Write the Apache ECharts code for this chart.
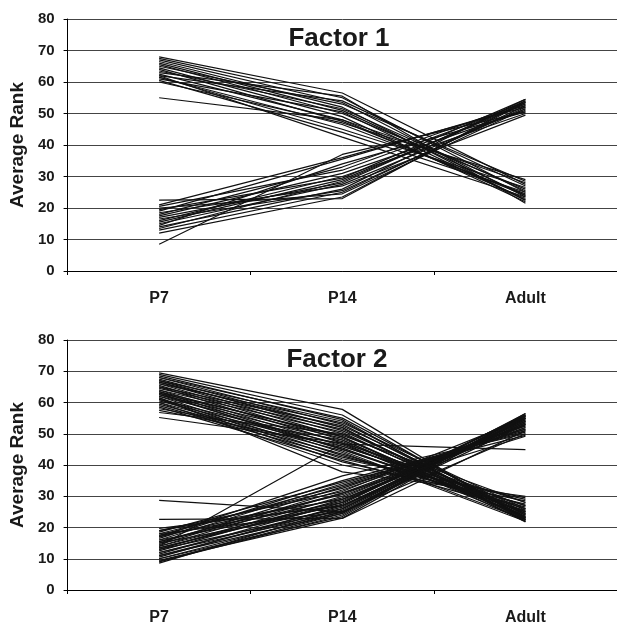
<!DOCTYPE html>
<html>
<head>
<meta charset="utf-8">
<script src="https://cdn.jsdelivr.net/npm/echarts@6/dist/echarts.min.js"></script>
<style>
html,body{margin:0;padding:0;background:#fff;}
#chart{width:617px;height:626px;}
</style>
</head>
<body>
<div id="chart"></div>
<script>
// Categories and y-axis ticks
var categories = ['P7', 'P14', 'Adult'];
var yTicks = [0, 10, 20, 30, 40, 50, 60, 70, 80];
var panelTitles = ['Factor 1', 'Factor 2'];

// Factor 1: each row is one gene line [P7, P14, Adult]
var factor1Down = [
  [68.0, 56.5, 27.5], [67.5, 55.0, 25.0], [67.0, 53.5, 23.5], [66.5, 52.0, 22.5],
  [66.0, 51.0, 24.0], [65.5, 50.0, 26.0], [65.0, 53.0, 28.5], [64.5, 49.0, 22.0],
  [63.5, 51.5, 25.5], [62.5, 48.0, 23.0], [62.0, 54.0, 27.0], [61.5, 46.5, 24.5],
  [61.0, 50.5, 22.5], [61.5, 45.0, 26.5], [60.5, 44.0, 25.0], [60.0, 47.0, 29.0],
  [62.0, 42.5, 23.5], [55.0, 48.0, 28.0], [63.0, 55.5, 21.5], [64.0, 47.5, 24.0]
];
var factor1Up = [
  [8.5, 37.0, 50.5], [22.5, 23.0, 54.0], [12.0, 23.5, 53.5], [13.0, 25.0, 52.5],
  [14.0, 26.0, 54.5], [15.0, 27.5, 51.5], [15.5, 29.0, 53.0], [16.0, 30.0, 50.0],
  [16.5, 25.5, 52.0], [17.0, 28.0, 54.0], [17.5, 31.0, 51.0], [18.0, 33.0, 53.5],
  [18.5, 27.0, 49.5], [19.0, 35.5, 52.5], [19.5, 29.5, 54.5], [20.0, 24.5, 51.5],
  [20.5, 32.0, 53.0], [14.5, 34.0, 50.5], [21.0, 36.0, 52.0], [13.5, 28.5, 53.5]
];

// Factor 2
var factor2Down = [
  [69.5, 57.8, 22.5], [69.0, 56.0, 23.0], [68.5, 54.5, 22.0], [68.0, 53.0, 23.5],
  [68.0, 55.0, 24.0], [67.5, 52.0, 22.5], [67.0, 51.0, 25.0], [67.0, 54.0, 23.0],
  [66.5, 50.0, 24.5], [66.0, 49.0, 22.0], [66.0, 53.5, 26.0], [65.5, 48.0, 23.5],
  [65.0, 52.5, 25.5], [65.0, 47.0, 22.5], [64.5, 51.5, 24.0], [64.0, 46.0, 27.0],
  [64.0, 50.5, 23.0], [63.5, 45.0, 25.0], [63.0, 49.5, 28.0], [63.0, 44.0, 22.0],
  [62.5, 48.5, 24.5], [62.0, 43.0, 26.5], [62.0, 47.5, 23.5], [61.5, 42.0, 29.5],
  [61.0, 46.5, 25.0], [61.0, 41.0, 27.5], [60.5, 45.5, 24.0], [60.0, 40.0, 28.5],
  [60.0, 44.5, 22.5], [59.5, 43.5, 26.0], [59.0, 42.5, 29.0], [58.5, 41.5, 25.5],
  [58.0, 48.0, 23.0], [57.5, 46.0, 27.0], [56.8, 50.0, 24.5], [55.2, 47.0, 28.0],
  [61.5, 37.8, 30.0], [66.5, 52.0, 21.8], [63.5, 49.0, 23.0], [62.5, 45.0, 26.0]
];
var factor2Up = [
  [8.6, 26.0, 56.5], [9.0, 24.0, 56.0], [9.5, 23.0, 55.5], [10.0, 25.0, 55.0],
  [10.5, 27.0, 54.5], [11.0, 24.5, 56.0], [11.5, 28.0, 54.0], [12.0, 26.5, 55.5],
  [12.5, 29.0, 53.5], [13.0, 25.5, 55.0], [13.0, 30.0, 53.0], [13.5, 27.5, 56.0],
  [14.0, 31.0, 52.5], [14.0, 28.5, 54.5], [14.5, 32.0, 52.0], [15.0, 26.0, 55.0],
  [15.0, 33.0, 51.5], [15.5, 29.5, 54.0], [16.0, 34.0, 51.0], [16.0, 27.0, 53.5],
  [16.5, 35.0, 50.5], [17.0, 30.5, 53.0], [17.0, 36.5, 50.0], [17.5, 28.0, 55.5],
  [18.0, 32.5, 52.5], [18.0, 25.0, 54.0], [18.5, 34.5, 49.5], [19.0, 29.0, 52.0],
  [19.0, 31.5, 55.0], [19.7, 27.0, 53.5], [22.6, 22.9, 51.0], [28.7, 25.0, 50.0],
  [14.0, 46.7, 44.9], [10.0, 23.5, 56.5], [12.0, 25.0, 53.0], [9.2, 24.5, 55.5],
  [11.0, 26.0, 54.5], [13.5, 28.0, 56.0], [15.5, 31.0, 49.2], [17.5, 33.5, 51.5]
];

var panels = [factor1Down.concat(factor1Up), factor2Down.concat(factor2Up)];

var FONT = '"Liberation Sans", Arial, sans-serif';
var grids = [
  { left: 67, top: 19, right: 0, height: 252 },
  { left: 67, top: 340, right: 0, height: 252 }
];

function makeX(i) {
  return {
    type: 'category', gridIndex: i, data: categories, boundaryGap: true,
    axisLine: { lineStyle: { color: '#000', width: 1 } },
    axisTick: { show: true, length: 4, alignWithLabel: false, lineStyle: { color: '#000' } },
    axisLabel: { color: '#1a1a1a', fontFamily: FONT, fontWeight: 'bold', fontSize: 16, margin: 20 },
    splitLine: { show: false }
  };
}
function makeY(i) {
  return {
    type: 'value', gridIndex: i, min: yTicks[0], max: yTicks[yTicks.length - 1], interval: 10,
    name: 'Average Rank', nameLocation: 'middle', nameGap: 39, nameRotate: 90,
    nameTextStyle: { color: '#1a1a1a', fontFamily: FONT, fontWeight: 'bold', fontSize: 19 },
    axisLine: { show: true, lineStyle: { color: '#000', width: 1 } },
    axisTick: { show: true, length: 4, lineStyle: { color: '#000' } },
    axisLabel: { color: '#1a1a1a', fontFamily: FONT, fontWeight: 'bold', fontSize: 15, margin: 13 },
    splitLine: { show: true, lineStyle: { color: '#444', width: 1 } }
  };
}

var series = [];
panels.forEach(function (lines, p) {
  lines.forEach(function (vals) {
    series.push({
      type: 'line', xAxisIndex: p, yAxisIndex: p, data: vals,
      symbol: 'none', silent: true, animation: false,
      lineStyle: { color: '#111', width: 1.2 }, z: 3
    });
  });
});

var chart = echarts.init(document.getElementById('chart'), null, { renderer: 'canvas' });
chart.setOption({
  backgroundColor: '#fff',
  animation: false,
  grid: grids,
  xAxis: [makeX(0), makeX(1)],
  yAxis: [makeY(0), makeY(1)],
  series: series,
  graphic: [
    { type: 'text', x: 339, y: 39, z: 10, style: { text: panelTitles[0], fill: '#1a1a1a', font: 'bold 26px ' + FONT, textAlign: 'center', textVerticalAlign: 'middle' } },
    { type: 'text', x: 337, y: 360, z: 10, style: { text: panelTitles[1], fill: '#1a1a1a', font: 'bold 26px ' + FONT, textAlign: 'center', textVerticalAlign: 'middle' } }
  ]
});
</script>
</body>
</html>
